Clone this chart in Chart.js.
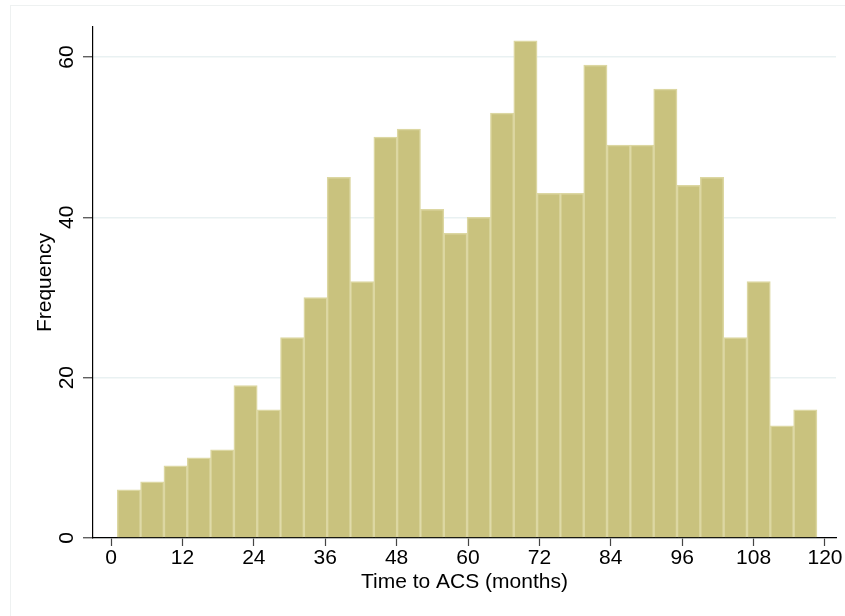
<!DOCTYPE html>
<html>
<head>
<meta charset="utf-8">
<script src="https://cdn.jsdelivr.net/npm/chart.js@4/dist/chart.umd.min.js"></script>
<style>
  html, body { margin: 0; padding: 0; background: #fff; }
  #wrap { width: 845px; height: 616px; }
</style>
</head>
<body>
<div id="wrap"><canvas id="chart" width="845" height="616"></canvas></div>
<script>
// bin midpoints (months): bins ~3.92 months wide starting near 1
const binMids = [3.01, 6.93, 10.85, 14.77, 18.69, 22.61, 26.53, 30.45, 34.37, 38.29,
                 42.21, 46.13, 50.05, 53.97, 57.89, 61.81, 65.73, 69.65, 73.57, 77.49,
                 81.41, 85.33, 89.25, 93.17, 97.09, 101.01, 104.93, 108.85, 112.77, 116.69];
const frequency = [6, 7, 9, 10, 11, 19, 16, 25, 30, 45,
                   32, 50, 51, 41, 38, 40, 53, 62, 43, 43,
                   59, 49, 49, 56, 44, 45, 25, 32, 14, 16];
const xTicks = [0, 12, 24, 36, 48, 60, 72, 84, 96, 108, 120];
const yTicks = [0, 20, 40, 60];

const font = { family: "'Liberation Sans', Arial, Helvetica, sans-serif", size: 21 };

// white page with the faint outer frame
const frame = {
    id: 'frame',
    beforeDraw(c) {
        const ctx = c.ctx;
        ctx.save();
        ctx.fillStyle = '#fff';
        ctx.fillRect(0, 0, c.width, c.height);
        ctx.strokeStyle = '#eef1f1';
        ctx.lineWidth = 1;
        ctx.strokeRect(10.5, 5.5, 900, 700);
        ctx.restore();
    }
};

const chart = document.querySelector('#chart').getContext('2d');

new Chart(chart, {
    type: 'bar',
    data: {
        datasets: [{
            label: 'Frequency',
            data: binMids.map((m, i) => ({ x: m, y: frequency[i] })),
            backgroundColor: '#c9c27e',
            borderColor: '#dcd7a2',
            borderWidth: 1.5,
            barPercentage: 1,
            categoryPercentage: 1
        }]
    },
    options: {
        responsive: false,
        animation: false,
        events: [],
        layout: { padding: { top: 27, right: 9, left: 0, bottom: 18 } },
        plugins: { legend: { display: false }, tooltip: { enabled: false } },
        scales: {
            x: {
                type: 'linear',
                offset: false,
                min: -3.03,
                max: 121.85,
                afterBuildTicks: s => { s.ticks = xTicks.map(v => ({ value: v })); },
                afterFit: s => { s.height = 60; },
                ticks: { font: font, color: '#000', padding: 0, maxRotation: 0, autoSkip: false },
                grid: { offset: false, drawOnChartArea: false, tickLength: 8, tickColor: '#444', tickWidth: 1.2 },
                border: { color: '#000', width: 1.2 },
                title: { display: true, text: 'Time to ACS (months)', font: font, color: '#000',
                         padding: { top: 0, bottom: 3.6 } }
            },
            y: {
                min: 0,
                max: 63.74,
                afterBuildTicks: s => { s.ticks = yTicks.map(v => ({ value: v })); },
                afterFit: s => { s.width = 93; },
                ticks: { font: font, color: '#000', padding: 4, minRotation: 90, maxRotation: 90,
                         crossAlign: 'center', autoSkip: false },
                grid: { color: '#e9f1f2', lineWidth: 1.5, tickLength: 10, tickColor: '#444', tickWidth: 1.2 },
                border: { color: '#000', width: 1.2 },
                title: { display: true, text: 'Frequency', font: font, color: '#000',
                         padding: { top: 32.6, bottom: 0 } }
            }
        }
    },
    plugins: [frame]
});
</script>
</body>
</html>
